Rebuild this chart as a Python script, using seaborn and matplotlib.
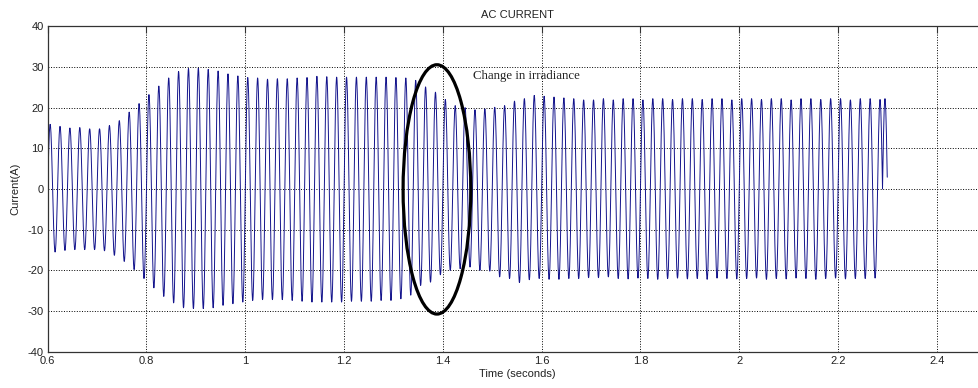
import numpy as np
import pandas as pd
import matplotlib.pyplot as plt
import seaborn as sns
from matplotlib.patches import Ellipse

# Peak value of every positive half-cycle (A), 50 Hz
peak_amps = [15.9, 15.4, 15.0, 15.1, 14.8, 14.8, 15.6, 16.8, 18.9, 21.0,
             23.2, 25.3, 27.3, 28.9, 29.6, 29.7, 29.4, 29.0, 28.3, 27.8,
             27.4, 27.3, 27.0, 27.1, 27.1, 27.3, 27.4, 27.7, 27.6,
             27.5, 27.5, 27.5, 27.5, 27.5, 27.5, 27.4, 27.3, 26.7, 25.1,
             23.8, 22.0, 20.5, 20.0, 19.5, 19.7, 20.1, 20.5, 21.6, 22.2,
             23.0, 22.8, 22.6, 22.4, 22.2, 21.9, 21.9, 22.2, 21.9,
             22.2, 22.2, 21.9, 22.2, 22.2, 22.0, 22.2, 22.2, 22.0, 22.2,
             22.2, 21.9, 22.2, 22.2, 22.0, 22.2, 22.2, 21.9, 22.2, 22.2,
             22.0, 22.2, 22.2, 21.9, 22.2, 22.2, 22.0, 22.2]

# Trough value of every negative half-cycle (A)
trough_amps = [15.5, 15.1, 14.9, 14.9, 14.9, 15.2, 16.3, 17.8, 19.8, 22.0,
               24.3, 26.4, 28.0, 29.2, 29.4, 29.4, 29.2, 28.6, 28.2, 27.8,
               27.4, 27.2, 27.2, 27.2, 27.4, 27.6, 27.8, 27.8,
               27.8, 27.8, 27.6, 27.6, 27.6, 27.4, 27.4, 27.0, 26.1, 23.7,
               22.9, 21.1, 20.0, 19.6, 19.2, 20.0, 20.2, 21.6, 22.0, 23.0,
               22.3, 22.0, 22.2, 22.2, 22.0, 22.0, 21.8, 21.8, 21.6,
               22.0, 22.1, 21.9, 22.0, 22.2, 22.0, 21.9, 22.1, 22.0, 22.2,
               21.9, 22.0, 22.1, 22.0, 21.9, 22.2, 22.0, 22.1, 21.9, 22.0,
               22.2, 22.0, 21.9, 22.1, 22.0, 22.0, 21.9]

start_time = 0.6      # first rising zero crossing (s)
end_time = 2.308      # where the recorded trace stops (s)
freq = 50.0           # grid frequency (Hz)

x_ticks = [0.6, 0.8, 1.0, 1.2, 1.4, 1.6, 1.8, 2.0, 2.2, 2.4]
x_tick_labels = ['0.6', '0.8', '1', '1.2', '1.4', '1.6', '1.8', '2', '2.2', '2.4']
y_ticks = [-40, -30, -20, -10, 0, 10, 20, 30, 40]

# build the sampled waveform half-cycle by half-cycle
half = 0.5 / freq
amps = []
for i in range(len(peak_amps)):
    amps.append(peak_amps[i])
    if i < len(trough_amps):
        amps.append(-trough_amps[i])
times, values = [], []
for k, a in enumerate(amps):
    t = start_time + k * half + np.linspace(0, half, 24, endpoint=False)
    v = a * np.sin(np.pi * (t - start_time - k * half) / half)
    keep = t <= end_time
    times.extend(t[keep])
    values.extend(v[keep])
df = pd.DataFrame({'time': times, 'current': values})

sns.set_style('white')
plt.rcParams['font.family'] = ['Liberation Sans', 'DejaVu Sans']
plt.rcParams['axes.unicode_minus'] = False

fig = plt.figure(figsize=(9.79, 3.88), dpi=100)
ax = fig.add_axes([0.0487, 0.0936, 0.9587, 0.8386])

sns.lineplot(data=df, x='time', y='current', estimator=None, sort=False,
             color='#14148c', linewidth=0.7, ax=ax)

ax.set_xlim(0.6, 2.5)
ax.set_ylim(-40, 40)
ax.set_xticks(x_ticks)
ax.set_xticklabels(x_tick_labels)
ax.set_yticks(y_ticks)
ax.grid(True, color='black', linestyle=':', linewidth=0.7)
ax.tick_params(direction='in', top=True, right=True, length=5, width=0.8,
               color='#333333', labelsize=8, labelcolor='#222222', pad=3)
for s in ax.spines.values():
    s.set_color('#333333')
    s.set_linewidth(0.9)

ax.set_title('AC CURRENT', fontsize=8, color='#222222', pad=6)
ax.set_xlabel('Time (seconds)', fontsize=8, color='#222222', labelpad=2)
ax.set_ylabel('Current(A)', fontsize=8, color='#222222', labelpad=5)

# annotation marking the irradiance step
ax.add_patch(Ellipse((1.388, -0.1), 0.137, 61.3, fill=False,
                     edgecolor='black', linewidth=2.3, zorder=5))
ax.text(1.4616, 27.7, 'Change in irradiance', fontsize=9.3,
        family=['Liberation Serif', 'DejaVu Serif'], va='center', ha='left',
        color='#222222')

fig.savefig('out.png', dpi=100)
